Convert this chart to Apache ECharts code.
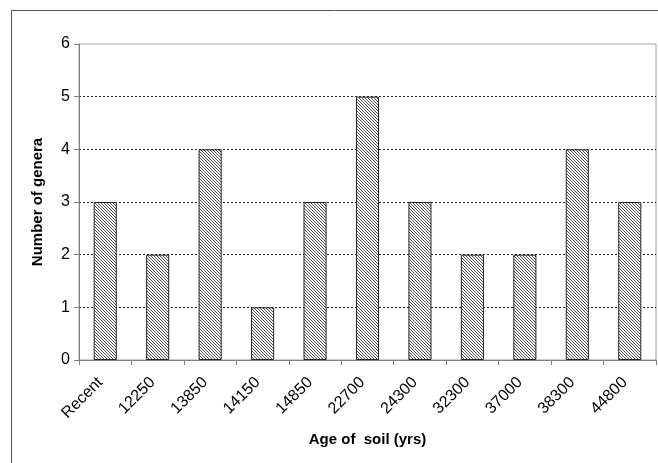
<!DOCTYPE html>
<html><head><meta charset="utf-8">
<script src="https://cdn.jsdelivr.net/npm/echarts@6/dist/echarts.min.js"></script>
<style>html,body{margin:0;padding:0;background:#fff}#c{width:658px;height:463px}</style>
</head><body><div id="c"></div>
<script>
var categories = ['Recent','12250','13850','14150','14850','22700','24300','32300','37000','38300','44800'];
var genera = [3,2,4,1,3,5,3,2,2,4,3];
var yTicks = [0,1,2,3,4,5,6];

function hatch(){
  var c = document.createElement('canvas');
  c.width = 3; c.height = 3;
  var g = c.getContext('2d');
  g.fillStyle = '#ffffff'; g.fillRect(0,0,3,3);
  g.strokeStyle = '#505050'; g.lineWidth = 1;
  g.beginPath();
  g.moveTo(-1,-1); g.lineTo(4,4);
  g.moveTo(-1,2); g.lineTo(1,4);
  g.moveTo(2,-1); g.lineTo(4,1);
  g.stroke();
  return c;
}

var chart = echarts.init(document.getElementById('c'), null, {renderer:'canvas'});
chart.setOption({
  animation:false,
  textStyle:{fontFamily:'Liberation Sans, Arial, sans-serif'},
  graphic:[{type:'rect', shape:{x:11.5,y:10.5,width:700,height:500}, style:{fill:'none',stroke:'#555',lineWidth:1}, z:-1}],
  grid:{left:79,right:2,top:44,bottom:103,show:true,borderColor:'#a0a0a0',borderWidth:1},
  xAxis:{
    type:'category', data:categories,
    axisLine:{lineStyle:{color:'#808080'}},
    axisTick:{show:true, length:5, lineStyle:{color:'#808080'}},
    axisLabel:{rotate:45, color:'#000', fontSize:16, margin:15, padding:[0,7,0,0]},
    name:'Age of  soil (yrs)', nameLocation:'middle', nameGap:72,
    nameTextStyle:{color:'#000', fontWeight:'bold', fontSize:15}
  },
  yAxis:{
    type:'value', min:yTicks[0], max:yTicks[yTicks.length-1], interval:1,
    axisLine:{show:true, lineStyle:{color:'#808080'}},
    axisTick:{show:true, length:5, lineStyle:{color:'#808080'}},
    axisLabel:{color:'#000', fontSize:16, margin:9},
    splitLine:{show:true, showMinLine:false, showMaxLine:false, lineStyle:{color:'#222', type:[2,2], width:1}},
    name:'Number of genera', nameLocation:'middle', nameGap:34,
    nameTextStyle:{color:'#000', fontWeight:'bold', fontSize:15}
  },
  series:[{
    type:'bar', data:genera, barWidth:'44%',
    itemStyle:{color:{image:hatch(), repeat:'repeat'}, borderColor:'#222', borderWidth:1}
  }]
});
</script></body></html>
